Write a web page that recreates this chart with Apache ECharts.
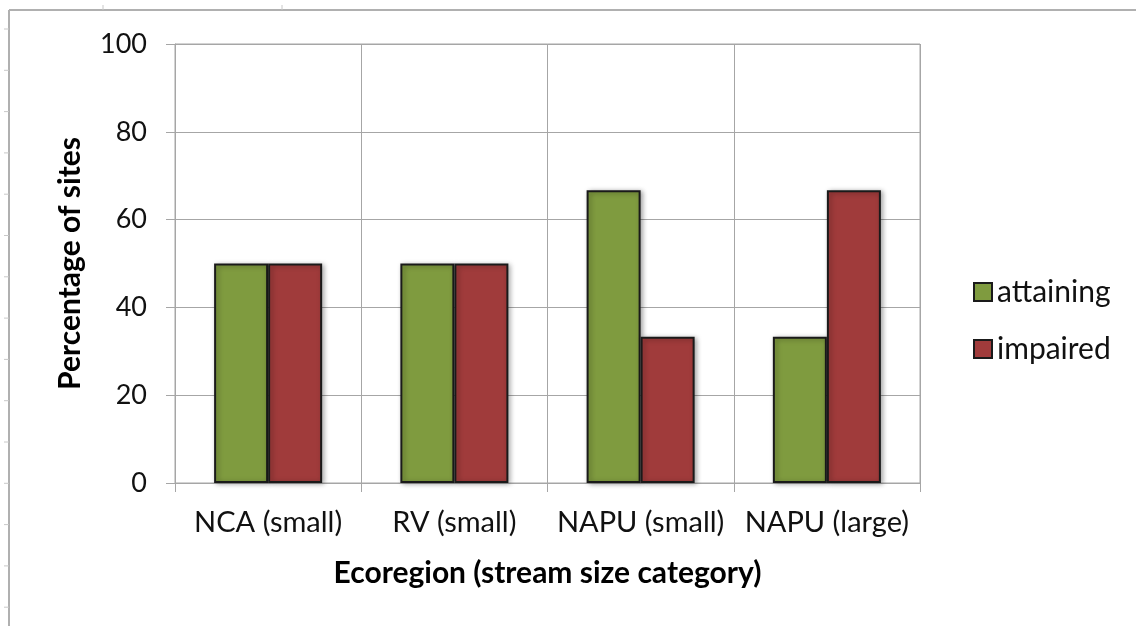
<!DOCTYPE html>
<html>
<head>
<meta charset="utf-8">
<script src="https://cdn.jsdelivr.net/npm/echarts@6/dist/echarts.min.js"></script>
<style>
  html, body { margin: 0; padding: 0; background: #fff; }
  #chart { width: 1136px; height: 626px; }
</style>
</head>
<body>
<div id="chart"></div>
<script>
// data
const categories = ['NCA (small)', 'RV (small)', 'NAPU (small)', 'NAPU (large)'];
const attaining = [50, 50, 66.7, 33.3];
const impaired = [50, 50, 33.3, 66.7];
const yTicks = [0, 20, 40, 60, 80, 100];

const chart = echarts.init(document.getElementById('chart'), null, { renderer: 'canvas' });

const font = 'Lato, "Open Sans", sans-serif';
const gridGray = '#a6a6a6';

// little spreadsheet marks along the outer frame
const frameMarks = [];
for (let y = 29; y < 626; y += 41.3) {
  frameMarks.push({ type: 'line', shape: { x1: 4, y1: y, x2: 9, y2: y }, style: { stroke: '#c8c8c8', lineWidth: 1 } });
}
[103, 282].forEach(x => {
  frameMarks.push({ type: 'line', shape: { x1: x, y1: 5, x2: x, y2: 10 }, style: { stroke: '#c8c8c8', lineWidth: 1 } });
});

const barStyle = (color) => ({
  color: color,
  borderColor: '#1a1a1a',
  borderWidth: 2,
  shadowColor: 'rgba(0,0,0,0.35)',
  shadowBlur: 5,
  shadowOffsetX: 2,
  shadowOffsetY: 1
});

const option = {
  backgroundColor: '#fff',
  animation: false,
  textStyle: { fontFamily: font },
  grid: {
    left: 175, top: 44, right: 216, bottom: 143,
    show: true, borderColor: gridGray, borderWidth: 1
  },
  legend: {
    orient: 'vertical',
    left: 968,
    top: 272,
    itemWidth: 18,
    itemHeight: 18,
    itemGap: 27,
    icon: 'rect',
    textStyle: { fontSize: 30, color: '#111', fontFamily: font },
    data: ['attaining', 'impaired']
  },
  xAxis: {
    type: 'category',
    data: categories,
    axisLine: { lineStyle: { color: gridGray, width: 1 } },
    axisTick: { show: true, interval: 0, length: 9, lineStyle: { color: gridGray } },
    splitLine: { show: true, interval: 0, lineStyle: { color: gridGray } },
    axisLabel: { interval: 0, fontSize: 29, color: '#111', margin: 25, fontFamily: font },
    name: 'Ecoregion (stream size category)',
    nameLocation: 'middle',
    nameGap: 75,
    nameTextStyle: { fontSize: 30, fontWeight: 'bold', color: '#000', fontFamily: font }
  },
  yAxis: {
    type: 'value',
    min: yTicks[0],
    max: yTicks[yTicks.length - 1],
    interval: 20,
    axisLine: { show: true, lineStyle: { color: gridGray, width: 1 } },
    axisTick: { show: true, length: 9, lineStyle: { color: gridGray } },
    splitLine: { show: true, lineStyle: { color: gridGray } },
    axisLabel: { fontSize: 27, color: '#111', margin: 28, fontFamily: font },
    name: 'Percentage of sites',
    nameLocation: 'middle',
    nameGap: 90,
    nameTextStyle: { fontSize: 30, fontWeight: 'bold', color: '#000', fontFamily: font }
  },
  series: [
    {
      name: 'attaining',
      type: 'bar',
      data: attaining,
      barGap: '0%',
      barCategoryGap: '42%',
      itemStyle: barStyle('#7f9b3f')
    },
    {
      name: 'impaired',
      type: 'bar',
      data: impaired,
      barGap: '0%',
      barCategoryGap: '42%',
      itemStyle: barStyle('#a03b3b')
    }
  ],
  graphic: [
    { type: 'line', shape: { x1: 9, y1: 10, x2: 1136, y2: 10 }, style: { stroke: '#b0b0b0', lineWidth: 2 } },
    { type: 'line', shape: { x1: 9, y1: 10, x2: 9, y2: 626 }, style: { stroke: '#b0b0b0', lineWidth: 2 } }
  ].concat(frameMarks)
};

chart.setOption(option);
</script>
</body>
</html>
